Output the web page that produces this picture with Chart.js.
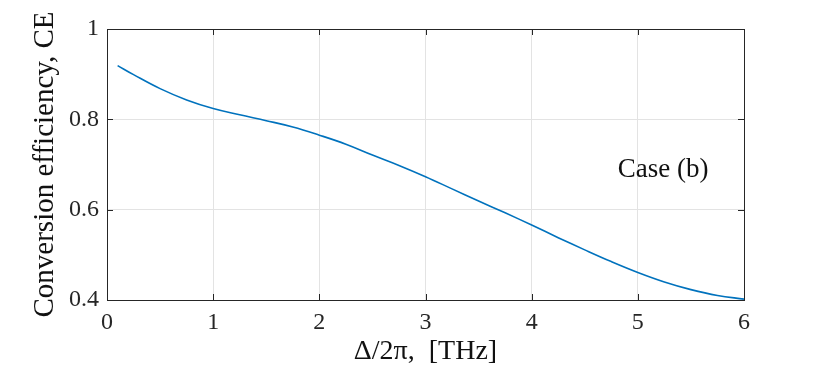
<!DOCTYPE html>
<html>
<head>
<meta charset="utf-8">
<script src="https://cdn.jsdelivr.net/npm/chart.js@4.4.0/dist/chart.umd.min.js"></script>
<style>
  html, body { margin: 0; padding: 0; background: #fff; }
  #wrap { width: 822px; height: 368px; }
</style>
</head>
<body>
<div id="wrap"><canvas id="ceChart" width="822" height="368"></canvas></div>
<script>
// Detuning (THz) and conversion efficiency
const freq = [0.1, 0.25, 0.5, 0.75, 1.0, 1.25, 1.5, 1.75, 2.0, 2.25, 2.5, 2.75, 3.0,
              3.25, 3.5, 3.75, 4.0, 4.25, 4.5, 4.75, 5.0, 5.25, 5.5, 5.75, 6.0];
const ce = [0.919, 0.899, 0.868, 0.843, 0.824, 0.810, 0.797, 0.783, 0.765, 0.745, 0.721, 0.698, 0.673,
            0.646, 0.619, 0.593, 0.566, 0.538, 0.511, 0.485, 0.461, 0.440, 0.423, 0.410, 0.402];

const xTickValues = [0, 1, 2, 3, 4, 5, 6];
const xTickLabels = ['0', '1', '2', '3', '4', '5', '6'];
const yTickValues = [0.4, 0.6, 0.8, 1];
const yTickLabels = ['0.4', '0.6', '0.8', '1'];

const annotationText = 'Case (b)';
const annotationPos = { x: 4.81, y: 0.688 };

const serif = "'Liberation Serif', 'Times New Roman', serif";
const axisColor = '#262626';

// Box around the plot + inward tick marks on all four sides (MATLAB style)
const boxPlugin = {
  id: 'boxTicks',
  afterDatasetsDraw(chart) {
    const { ctx, chartArea: a, scales } = chart;
    const len = 6;
    ctx.save();
    ctx.strokeStyle = axisColor;
    ctx.lineWidth = 1;
    ctx.beginPath();
    xTickValues.forEach(v => {
      const px = Math.round(scales.x.getPixelForValue(v)) + 0.5;
      ctx.moveTo(px, a.bottom); ctx.lineTo(px, a.bottom - len);
      ctx.moveTo(px, a.top); ctx.lineTo(px, a.top + len);
    });
    yTickValues.forEach(v => {
      const py = Math.round(scales.y.getPixelForValue(v)) + 0.5;
      ctx.moveTo(a.left, py); ctx.lineTo(a.left + len, py);
      ctx.moveTo(a.right, py); ctx.lineTo(a.right - len, py);
    });
    ctx.stroke();
    ctx.strokeRect(Math.round(a.left) + 0.5, Math.round(a.top) + 0.5,
                   Math.round(a.right - a.left), Math.round(a.bottom - a.top));

    // text label inside the plot
    ctx.fillStyle = '#111';
    ctx.font = '27px ' + serif;
    ctx.textAlign = 'left';
    ctx.textBaseline = 'middle';
    ctx.fillText(annotationText, scales.x.getPixelForValue(annotationPos.x),
                 scales.y.getPixelForValue(annotationPos.y));
    ctx.restore();
  }
};

const ctx = document.getElementById('ceChart').getContext('2d');
const ceChart = new Chart(ctx, {
  type: 'line',
  data: {
    datasets: [{
      data: freq.map((f, i) => ({ x: f, y: ce[i] })),
      borderColor: '#0072BD',
      borderWidth: 1.6,
      pointRadius: 0,
      fill: false,
      tension: 0.4
    }]
  },
  options: {
    responsive: false,
    devicePixelRatio: 1,
    animation: false,
    layout: { padding: { left: 0, top: 29, right: 78, bottom: 0 } },
    plugins: {
      legend: { display: false },
      tooltip: { enabled: false }
    },
    scales: {
      x: {
        type: 'linear',
        min: 0,
        max: 6,
        afterBuildTicks: scale => { scale.ticks = xTickValues.map(v => ({ value: v })); },
        afterFit: scale => { scale.height = 68; },
        ticks: {
          color: axisColor,
          font: { family: serif, size: 24 },
          padding: 8,
          maxRotation: 0,
          callback: (v) => xTickLabels[xTickValues.indexOf(v)]
        },
        grid: { color: '#e3e3e3', lineWidth: 1, drawTicks: false },
        border: { display: false },
        title: {
          display: true,
          text: 'Δ/2π,\u2002[THz]',
          color: '#111',
          font: { family: serif, size: 28 },
          padding: { top: 0, bottom: 0 }
        }
      },
      y: {
        type: 'linear',
        min: 0.4,
        max: 1,
        afterBuildTicks: scale => { scale.ticks = yTickValues.map(v => ({ value: v })); },
        afterFit: scale => { scale.width = 107; },
        ticks: {
          color: axisColor,
          font: { family: serif, size: 24 },
          padding: 8,
          callback: (v) => yTickLabels[yTickValues.findIndex(t => Math.abs(t - v) < 1e-9)]
        },
        grid: { color: '#e3e3e3', lineWidth: 1, drawTicks: false },
        border: { display: false },
        title: {
          display: true,
          text: 'Conversion efficiency, CE',
          color: '#111',
          font: { family: serif, size: 29 },
          padding: { top: 28, bottom: 0 }
        }
      }
    }
  },
  plugins: [boxPlugin]
});
</script>
</body>
</html>
